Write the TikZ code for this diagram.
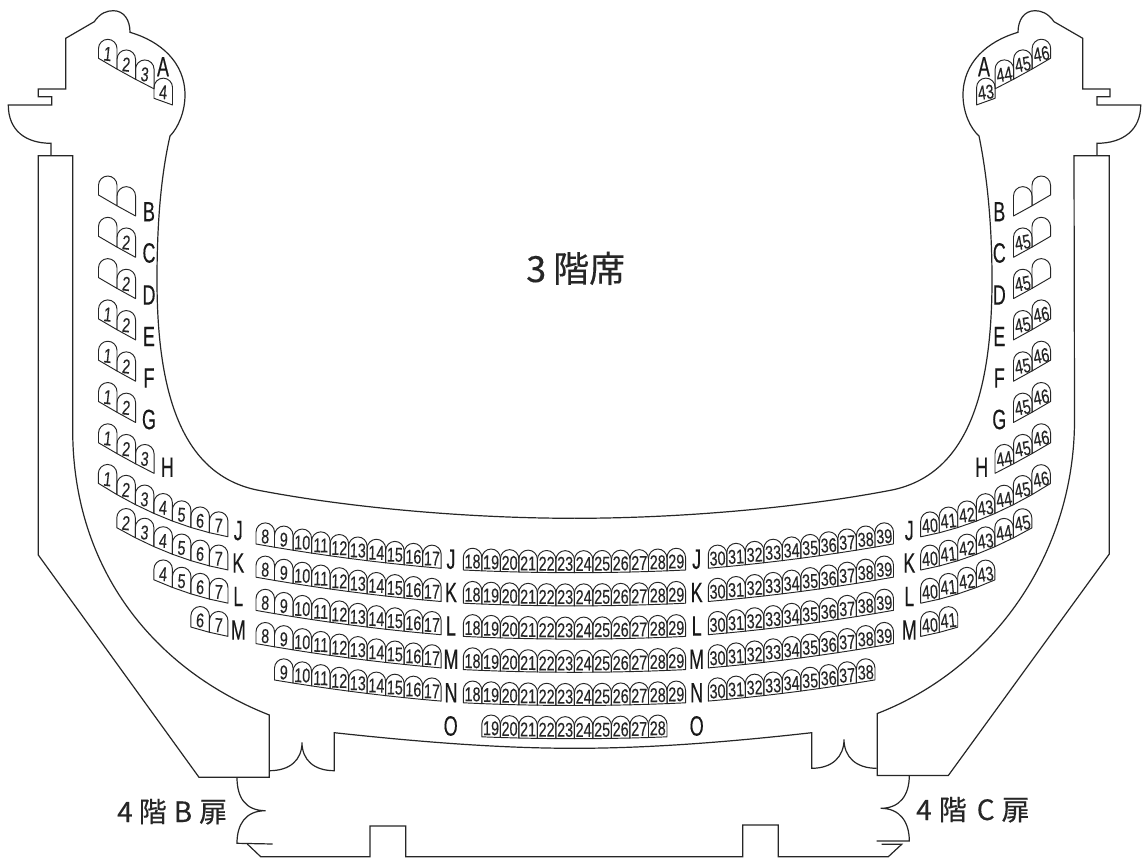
\documentclass[tikz,border=0pt]{standalone}
\usepackage{graphicx}
\usepackage{fontspec}
\setmainfont{Liberation Sans}
\newfontfamily\lblfont[FakeBold=0.15]{Liberation Sans}
\newfontfamily\letfont[FakeBold=0.35]{Liberation Sans}
\newfontfamily\cjk[FakeBold=0.3]{Noto Sans CJK JP}
\newcount\seatno
\def\sw{18.52}
\newcommand{\Seat}[5]{% #1 left x, #2 curve, #3 base y, #4 flip, #5 label
  \pgfmathsetmacro\xa{#1}
  \pgfmathsetmacro\xb{#1+\sw}
  \pgfmathsetmacro\xc{#1+\sw/2}
  \pgfmathsetmacro\ua{#4==1?1149-\xa:\xa}
  \pgfmathsetmacro\ub{#4==1?1149-\xb:\xb}
  \pgfmathsetmacro\ya{#3+#2(\ua)}
  \pgfmathsetmacro\yb{#3+#2(\ub)}
  \pgfmathsetmacro\hh{22+0.22*abs(\yb-\ya)}
  \pgfmathsetmacro\yap{(\ya+\yb)/2-\hh}
  \pgfmathsetmacro\ywa{\yap+\sw/2}
  \pgfmathsetmacro\ycc{\yap+\sw/2*0.45}
  \pgfmathsetmacro\xl{\xc-\sw/2*0.55}
  \pgfmathsetmacro\xr{\xc+\sw/2*0.55}
  \pgfmathsetmacro\ylab{\yap+0.6*\hh}
  \pgfmathsetmacro\rot{(#4==1?0.35:0.2)*atan2(\ya-\yb,\sw)}
  \draw[seatline] (\xa,\ya) -- (\xa,\ywa) .. controls (\xa,\ycc) and (\xl,\yap) .. (\xc,\yap)
     .. controls (\xr,\yap) and (\xb,\ycc) .. (\xb,\ywa) -- (\xb,\yb) -- cycle;
  \global\advance\seatno by 1
  \node[numlabel,rotate=\rot] (seat\the\seatno) at (\xc,\ylab) {\scalebox{.72}[1]{#5}};
}
\newcommand{\Row}[6]{% #1 curve, #2 base, #3 x0, #4 first, #5 last, #6 flip
  \foreach \n in {#4,...,#5}{\Seat{#3+(\n-#4)*\sw}{#1}{#2}{#6}{\n}}
}
\newcommand{\RowLabel}[3]{\node[rowlabel] (row-#1-#2) at (#1,#2) {\scalebox{.64}[1]{#3}};}
\tikzset{
  seatline/.style={draw=black!85,line width=0.95pt,line join=round},
  wall/.style={draw=black!85,line width=1.2pt,line join=miter},
  numlabel/.style={inner sep=0pt,font=\lblfont\fontsize{20}{20}\selectfont,text=black!85},
  rowlabel/.style={inner sep=0pt,font=\letfont\fontsize{28}{28}\selectfont,text=black!90},
  bigtext/.style={inner sep=0pt,font=\cjk,text=black!85}
}
\begin{document}
\begin{tikzpicture}[x=1pt,y=-1pt,
  declare function={
    curveS(\x)=0.6*(\x-98.5)-0.0009*(\x-98.5)^2;
    curveA(\x)=82.6*((\x-98.3)/129.4)-29.2*((\x-98.3)/129.4)^2;
    curveB(\x)=32.9*((\x-256)/185)-8.6*((\x-256)/185)^2;
    curveC(\x)=2.7*(1-((\x-574.5)/111.2)^2);
    curveZ(\x)=0.36*(\x-154);
  }]
\path[fill=white,use as bounding box] (0,0) rectangle (1142,858);

% left side
\draw[wall] (72.7,155.7) -- (38.3,155.7) -- (38.3,555) -- (199,777.3) -- (269.3,777.3) -- (269.3,715)
   .. controls (155,670) and (72.7,570) .. (72.7,430) -- cycle;
\draw[wall] (51,155.7) -- (51,143.3) .. controls (25,143.3) and (8.3,130) .. (8.3,105)
   -- (51.7,105) -- (51.7,96.7) -- (38.3,96.7) -- (38.3,89) -- (65.7,89) -- (65.7,38.3) -- (94.3,21.7)
   .. controls (100,13) and (107,10.7) .. (113.3,10.7) .. controls (124,10.7) and (130,20) .. (130,32.3)
   .. controls (160,41) and (185,62) .. (185,95) .. controls (185,112) and (178,128) .. (170,136)
   .. controls (160,180) and (157,230) .. (157,280) .. controls (157,400) and (185,475) .. (257,490)
   .. controls (350,508) and (470,518.3) .. (574.5,518.3);
% right side
\draw[wall] (1074,155.7) -- (1109.3,155.7) -- (1109.3,554) -- (948.3,775.5) -- (877.3,775.5) -- (877.3,713.5)
   .. controls (992,669) and (1074.5,555) .. (1074.5,420) -- cycle;
\draw[wall] (1097,155.7) -- (1097,143.3) .. controls (1123,143.3) and (1140.7,130) .. (1140.7,105)
   -- (1097,105) -- (1097,96.7) -- (1110,96.7) -- (1110,89) -- (1082.7,89) -- (1082.7,38.3) -- (1054,21.7)
   .. controls (1048,13) and (1041,10.7) .. (1035,10.7) .. controls (1024,10.7) and (1018,20) .. (1018,32.3)
   .. controls (988,41) and (963,62) .. (963,95) .. controls (963,112) and (970,128) .. (979,136)
   .. controls (988,180) and (992,230) .. (992,280) .. controls (992,400) and (964,475) .. (892,490)
   .. controls (799,508) and (679,518.3) .. (574.5,518.3);

% stalls front
\draw[wall] (269.3,770.7) .. controls (290,770.7) and (302,760) .. (302,742.3)
   .. controls (302,760) and (314,770.7) .. (334.3,770.7) -- (334.3,732.7)
   .. controls (420,742) and (500,748.3) .. (574.5,748.3)
   .. controls (649,748.3) and (729,742) .. (811.7,732.7) -- (811.7,768.3)
   .. controls (832,768.3) and (844,757) .. (844,739.3)
   .. controls (844,757) and (856,768.3) .. (876.7,768.3);

% door B
\draw[wall] (237,777.3) .. controls (237,797) and (245,810.7) .. (265.7,810.7)
   .. controls (245,810.7) and (237,825) .. (237,843.3) -- (272.7,844);
\draw[wall] (247.3,844) -- (260.7,856.7) -- (370,856.7) -- (370,826) -- (405.7,826) -- (405.7,856.7)
   -- (742.7,856.7) -- (742.7,825) -- (778.3,825) -- (778.3,856.7) -- (888.3,856.7) -- (901.7,844.3) -- (881.7,844.3);
% door C
\draw[wall] (909.3,775.5) .. controls (909.3,795) and (900,808.3) .. (880.7,808.3)
   .. controls (900,808.3) and (909.3,822) .. (909.3,841) -- (876.7,841);

% row A
\Row{curveS}{58.3}{98.5}{1}{3}{0}
\Seat{154}{curveZ}{98.3}{0}{4}
\Row{curveS}{58.3}{995.1}{44}{46}{1}
\Seat{976.6}{curveZ}{98.3}{1}{43}

% rows B-H left
\Seat{98.5}{curveS}{195}{0}{}
\Seat{117.02}{curveS}{195}{0}{}
\Seat{98.5}{curveS}{236.3}{0}{}
\Seat{117.02}{curveS}{236.3}{0}{2}
\Seat{98.5}{curveS}{277.6}{0}{}
\Seat{117.02}{curveS}{277.6}{0}{2}
\Row{curveS}{318.9}{98.5}{1}{2}{0}
\Row{curveS}{360.2}{98.5}{1}{2}{0}
\Row{curveS}{401.5}{98.5}{1}{2}{0}
\Row{curveS}{442.8}{98.5}{1}{3}{0}
% rows B-H right
\Seat{1013.5}{curveS}{195}{1}{}
\Seat{1032}{curveS}{195}{1}{}
\Seat{1013.5}{curveS}{236.3}{1}{45}
\Seat{1032}{curveS}{236.3}{1}{}
\Seat{1013.5}{curveS}{277.6}{1}{45}
\Seat{1032}{curveS}{277.6}{1}{}
\Row{curveS}{318.9}{1013.5}{45}{46}{1}
\Row{curveS}{360.2}{1013.5}{45}{46}{1}
\Row{curveS}{401.5}{1013.5}{45}{46}{1}
\Row{curveS}{442.8}{995}{44}{46}{1}

% outer left block
\Row{curveA}{483.3}{98.3}{1}{7}{0}
\Row{curveA}{516.5}{116.8}{2}{7}{0}
\Row{curveA}{549.7}{153.9}{4}{7}{0}
\Row{curveA}{582.9}{190.9}{6}{7}{0}
% outer right block
\Row{curveA}{483.3}{920.7}{40}{46}{1}
\Row{curveA}{516.5}{920.7}{40}{45}{1}
\Row{curveA}{549.7}{920.7}{40}{43}{1}
\Row{curveA}{582.9}{920.7}{40}{41}{1}

% left middle block
\Row{curveB}{544}{256}{8}{17}{0}
\Row{curveB}{577.2}{256}{8}{17}{0}
\Row{curveB}{610.4}{256}{8}{17}{0}
\Row{curveB}{643.6}{256}{8}{17}{0}
\Row{curveB}{676.8}{274.5}{9}{17}{0}
% centre block
\Row{curveC}{570}{463.3}{18}{29}{0}
\Row{curveC}{603.2}{463.3}{18}{29}{0}
\Row{curveC}{636.4}{463.3}{18}{29}{0}
\Row{curveC}{669.6}{463.3}{18}{29}{0}
\Row{curveC}{702.8}{463.3}{18}{29}{0}
\Row{curveC}{736}{481.8}{19}{28}{0}
% right middle block
\Row{curveB}{544}{708.3}{30}{39}{1}
\Row{curveB}{577.2}{708.3}{30}{39}{1}
\Row{curveB}{610.4}{708.3}{30}{39}{1}
\Row{curveB}{643.6}{708.3}{30}{39}{1}
\Row{curveB}{676.8}{708.3}{30}{38}{1}

% row letters
\RowLabel{163}{66.7}{A}
\RowLabel{984}{66.7}{A}
\RowLabel{149}{211.7}{B}
\RowLabel{149}{253}{C}
\RowLabel{149}{295}{D}
\RowLabel{149}{336.5}{E}
\RowLabel{149}{378}{F}
\RowLabel{149}{419.5}{G}
\RowLabel{167.3}{467.3}{H}
\RowLabel{999.3}{211.7}{B}
\RowLabel{999.3}{253}{C}
\RowLabel{999.3}{295}{D}
\RowLabel{999.3}{336.5}{E}
\RowLabel{999.3}{378}{F}
\RowLabel{999.3}{419.5}{G}
\RowLabel{981.7}{467.3}{H}
\RowLabel{238.3}{530.7}{J}
\RowLabel{238.3}{563}{K}
\RowLabel{238.3}{596.5}{L}
\RowLabel{238.3}{630}{M}
\RowLabel{451}{559.3}{J}
\RowLabel{451}{592.5}{K}
\RowLabel{451}{626}{L}
\RowLabel{451}{659.3}{M}
\RowLabel{451}{692.7}{N}
\RowLabel{450.7}{726}{O}
\RowLabel{696.7}{559.3}{J}
\RowLabel{696.7}{592.5}{K}
\RowLabel{696.7}{626}{L}
\RowLabel{696.7}{659.3}{M}
\RowLabel{696.7}{692.7}{N}
\RowLabel{696.7}{726}{O}
\RowLabel{909.3}{530.7}{J}
\RowLabel{909.3}{563}{K}
\RowLabel{909.3}{596.5}{L}
\RowLabel{909.3}{630}{M}

% captions
\node[bigtext,anchor=base west,font=\cjk\fontsize{36}{36}\selectfont] (title) at (526,282) {3\hspace{7pt}階席};
\node[bigtext,anchor=base west,font=\cjk\fontsize{28}{28}\selectfont] (doorB) at (117,822) {4\hspace{6pt}階\hspace{7pt}B\hspace{7pt}扉};
\node[bigtext,anchor=base west,font=\cjk\fontsize{28}{28}\selectfont] (doorC) at (916,820) {4\hspace{7pt}階\hspace{10pt}C\hspace{7pt}扉};
\end{tikzpicture}
\end{document}
